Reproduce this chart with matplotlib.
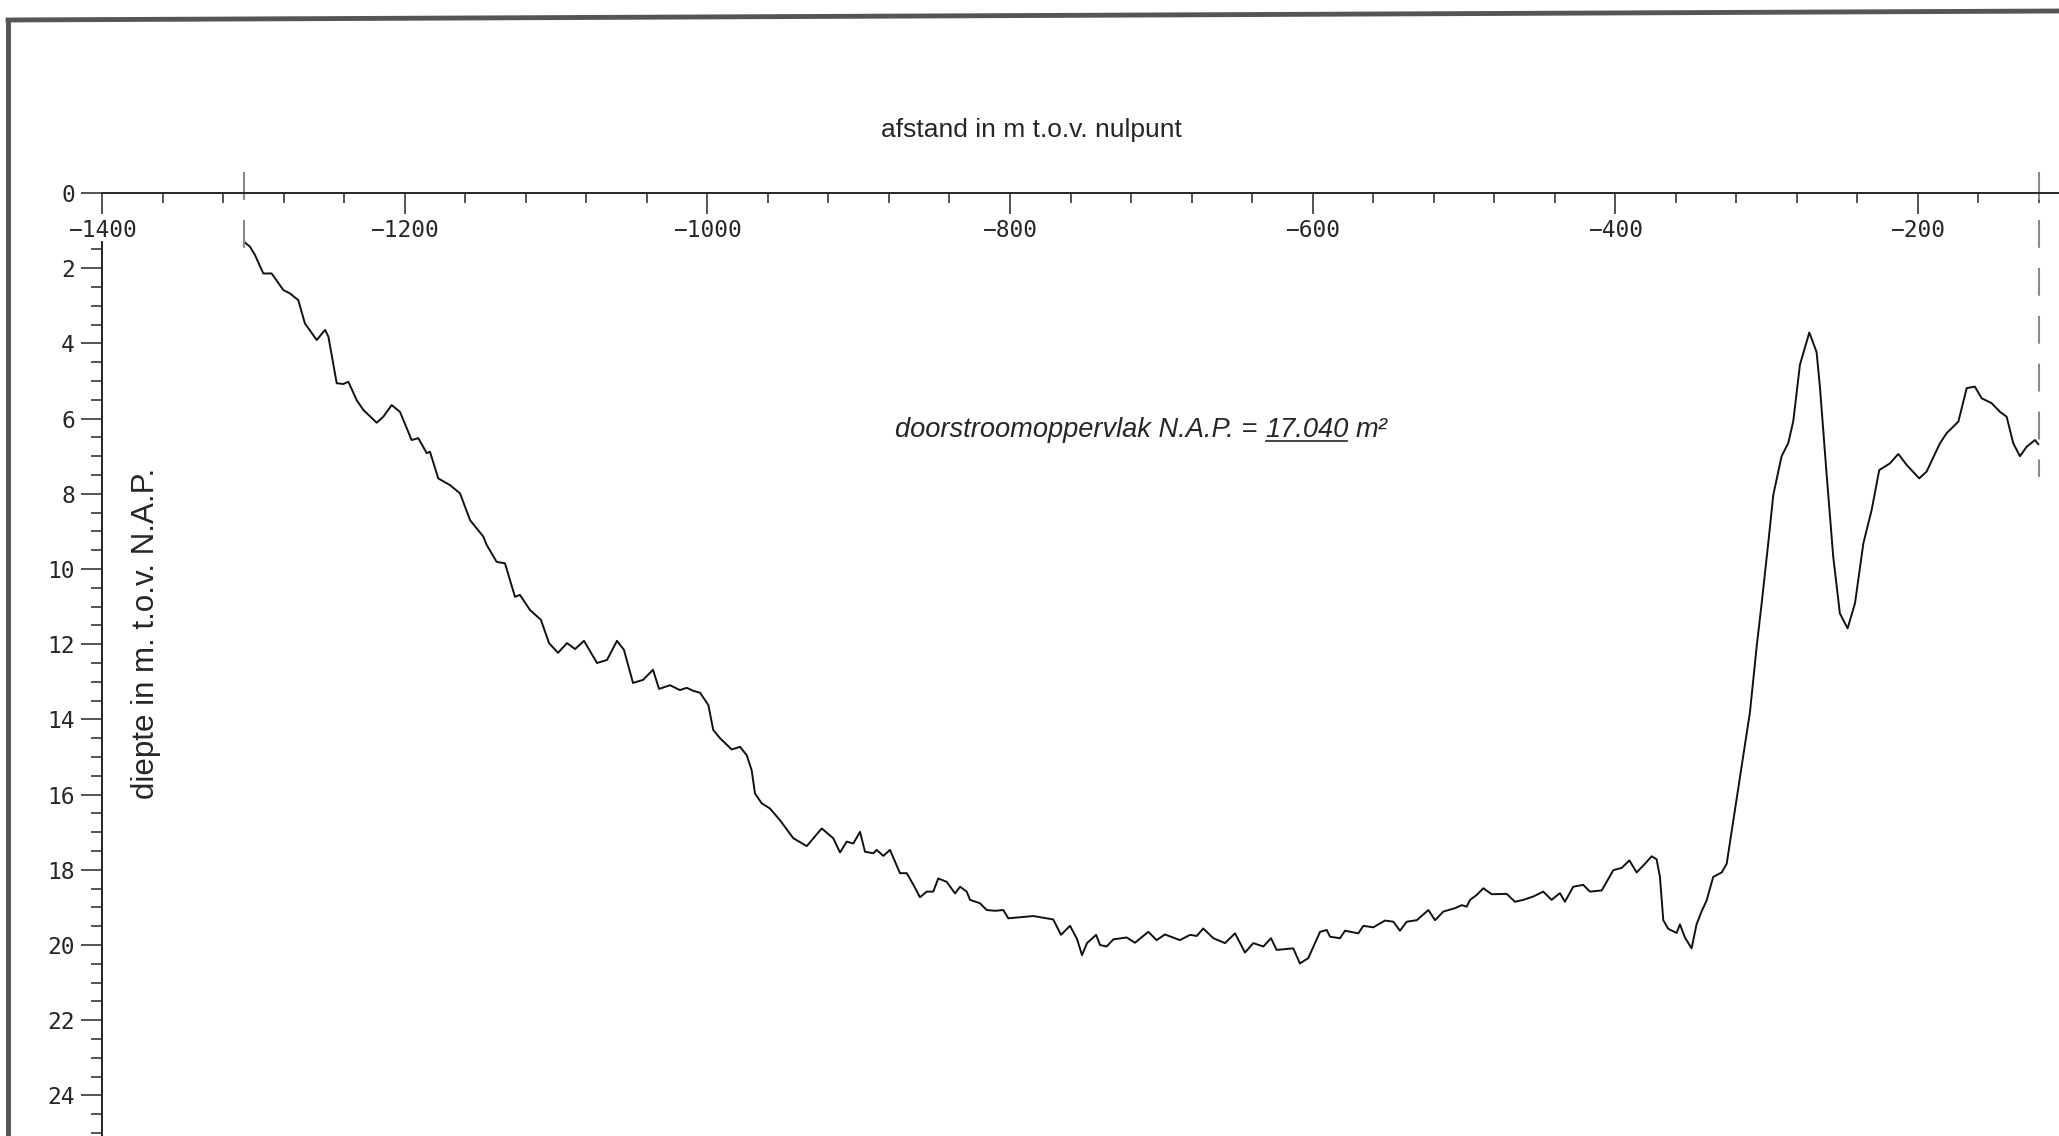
import matplotlib
matplotlib.use('Agg')
import matplotlib.pyplot as plt
from matplotlib.lines import Line2D
from matplotlib.ticker import MultipleLocator, FixedLocator

# dwarsprofiel: afstand (m t.o.v. nulpunt) en diepte (m t.o.v. N.A.P.)
afstand = [
    -1306.0, -1302.2, -1298.9, -1293.4, -1287.9, -1280.2, -1275.8, -1270.3, -1265.9, -1258.1,
    -1252.6, -1250.4, -1244.9, -1240.5, -1237.2, -1231.7, -1227.3, -1218.5, -1214.1, -1208.6,
    -1203.1, -1195.4, -1191.0, -1185.4, -1183.3, -1177.8, -1170.0, -1163.4, -1156.8, -1148.0,
    -1145.8, -1139.2, -1133.7, -1127.1, -1123.8, -1117.2, -1110.0, -1104.6, -1098.7, -1092.7,
    -1087.4, -1081.5, -1072.9, -1066.3, -1059.7, -1055.1, -1049.1, -1042.5, -1035.9, -1031.9,
    -1024.7, -1018.1, -1013.6, -1009.3, -1004.8, -999.3, -996.1, -991.6, -983.9, -978.4,
    -974.0, -970.7, -968.5, -964.1, -958.6, -952.0, -943.2, -934.3, -924.4, -916.8,
    -912.3, -907.9, -903.5, -899.1, -895.8, -890.3, -888.1, -883.7, -879.3, -872.7,
    -868.2, -863.8, -859.5, -855.0, -850.7, -847.4, -841.8, -836.3, -833.0, -828.6,
    -826.4, -819.8, -815.4, -809.9, -804.4, -801.1, -784.6, -771.4, -766.3, -760.3,
    -755.7, -752.4, -749.1, -743.1, -740.5, -736.1, -731.7, -722.9, -717.4, -708.6,
    -703.1, -697.6, -687.7, -681.0, -676.6, -672.3, -665.6, -657.9, -651.3, -644.7,
    -639.2, -632.6, -627.5, -623.8, -612.8, -608.4, -602.9, -595.1, -590.7, -588.5,
    -581.9, -578.6, -569.8, -566.5, -559.9, -552.2, -546.7, -542.3, -537.8, -531.2,
    -523.5, -519.1, -513.6, -505.9, -501.5, -498.2, -496.0, -491.6, -487.2, -481.7,
    -471.8, -466.3, -460.8, -454.2, -447.6, -442.1, -436.6, -433.3, -427.8, -421.2,
    -416.8, -409.0, -404.6, -401.3, -395.8, -390.7, -385.9, -380.4, -376.0, -372.7,
    -370.5, -368.3, -365.0, -359.5, -357.3, -354.0, -349.6, -346.3, -343.0, -339.7,
    -335.3, -329.7, -326.4, -322.0, -315.4, -311.0, -306.6, -303.3, -298.9, -295.6,
    -290.1, -285.7, -282.4, -278.0, -271.8, -267.0, -264.8, -260.4, -256.0, -251.6,
    -246.5, -241.6, -236.1, -230.6, -225.6, -218.5, -213.0, -207.5, -199.2, -194.3,
    -185.5, -181.1, -173.3, -167.8, -162.4, -157.9, -151.3, -145.8, -141.4, -137.0,
    -132.6, -128.2, -122.7, -120.5,
]
diepte = [
    1.30, 1.43, 1.65, 2.14, 2.14, 2.58, 2.67, 2.85, 3.47, 3.91,
    3.64, 3.82, 5.06, 5.08, 5.02, 5.51, 5.77, 6.11, 5.95, 5.64,
    5.82, 6.57, 6.52, 6.92, 6.88, 7.59, 7.77, 7.99, 8.70, 9.14,
    9.36, 9.81, 9.85, 10.74, 10.69, 11.09, 11.35, 11.97, 12.23, 11.97,
    12.13, 11.91, 12.50, 12.42, 11.91, 12.15, 13.03, 12.95, 12.68, 13.19,
    13.09, 13.22, 13.16, 13.24, 13.29, 13.62, 14.28, 14.50, 14.80, 14.73,
    14.95, 15.35, 15.97, 16.23, 16.37, 16.68, 17.16, 17.37, 16.90, 17.16,
    17.54, 17.25, 17.30, 16.99, 17.52, 17.56, 17.47, 17.63, 17.47, 18.09,
    18.09, 18.40, 18.73, 18.58, 18.58, 18.23, 18.32, 18.63, 18.45, 18.58,
    18.80, 18.89, 19.07, 19.09, 19.07, 19.29, 19.23, 19.32, 19.73, 19.49,
    19.84, 20.27, 19.95, 19.73, 20.00, 20.04, 19.85, 19.80, 19.94, 19.65,
    19.87, 19.72, 19.87, 19.73, 19.76, 19.56, 19.82, 19.95, 19.69, 20.20,
    19.95, 20.04, 19.82, 20.13, 20.09, 20.49, 20.35, 19.65, 19.60, 19.78,
    19.82, 19.62, 19.69, 19.49, 19.53, 19.35, 19.38, 19.62, 19.38, 19.34,
    19.07, 19.34, 19.11, 19.02, 18.94, 18.98, 18.80, 18.67, 18.49, 18.65,
    18.64, 18.85, 18.80, 18.71, 18.58, 18.80, 18.62, 18.85, 18.45, 18.40,
    18.58, 18.55, 18.24, 18.01, 17.95, 17.75, 18.07, 17.84, 17.64, 17.72,
    18.19, 19.34, 19.57, 19.68, 19.45, 19.80, 20.09, 19.45, 19.11, 18.82,
    18.19, 18.07, 17.84, 16.69, 14.95, 13.80, 12.07, 10.92, 9.30, 8.03,
    7.00, 6.65, 6.07, 4.57, 3.71, 4.23, 5.15, 7.46, 9.67, 11.18,
    11.58, 10.91, 9.32, 8.43, 7.37, 7.19, 6.94, 7.23, 7.59, 7.41,
    6.66, 6.39, 6.08, 5.19, 5.15, 5.46, 5.59, 5.82, 5.95, 6.66,
    7.00, 6.75, 6.57, 6.68,
]

# grenzen van het profiel (gestreepte lijnen)
grens_x = [-1306, -120]
grens_onder = [1.9, 7.55]
grens_boven = -0.55

x_major = list(range(-1400, -199, 200))
y_major = list(range(0, 25, 2))
oppervlak = '17.040'

fig = plt.figure(figsize=(20.59, 11.36), dpi=100, facecolor='white')
W, H = 2059, 1136
x_px0, px_per_m = 102, 1.5133
y_px0, px_per_d = 193, 37.6
x_max = -1400 + (W - x_px0) / px_per_m
y_max = (H - y_px0) / px_per_d
ax = fig.add_axes([x_px0 / W, 0, 1 - x_px0 / W, (H - y_px0) / H])
ax.set_xlim(-1400, x_max)
ax.set_ylim(y_max, 0)

ink = '#262626'
ax.plot(afstand, diepte, color='#111111', lw=1.4, solid_joinstyle='round')
for gx, go in zip(grens_x, grens_onder):
    ax.plot([gx, gx], [grens_boven, go], color='#8a8a8a', lw=1.5,
            linestyle=(0, (13.4, 9.6)), clip_on=False)

# assen
for s in ['right', 'bottom']:
    ax.spines[s].set_visible(False)
ax.spines['top'].set_linewidth(1.4)
ax.spines['top'].set_color(ink)
ax.spines['left'].set_linewidth(1.4)
ax.spines['left'].set_color(ink)
ax.spines['left'].set_bounds(1.3, y_max)

ax.xaxis.set_ticks_position('top')
ax.set_xticks(x_major)
ax.set_xticklabels([str(v).replace('-', '\u2212') for v in x_major])
ax.xaxis.set_minor_locator(MultipleLocator(40))
ax.tick_params(axis='x', which='major', direction='in', length=15, width=1.1,
               color=ink, pad=-35, labelsize=16.5, labelcolor=ink,
               labelfontfamily='DejaVu Sans Mono')
ax.tick_params(axis='x', which='minor', direction='in', length=7.5, width=1.1, color=ink)

ax.set_yticks(y_major)
ax.yaxis.set_minor_locator(FixedLocator([v / 2 for v in range(3, 51)]))
ax.tick_params(axis='y', which='major', direction='out', length=15, width=1.1,
               color=ink, pad=4.5, labelsize=16.5, labelcolor=ink,
               labelfontfamily='DejaVu Sans Mono')
ax.tick_params(axis='y', which='minor', direction='out', length=8, width=1.1, color=ink)

ax.xaxis.set_label_position('top')
ax.set_xlabel('afstand in m t.o.v. nulpunt', fontsize=19, family='Liberation Sans',
              color=ink, va='center')
ax.xaxis.set_label_coords((1031 - x_px0) / (W - x_px0), 1 + (y_px0 - 130) / (H - y_px0))
ax.set_ylabel('diepte in m. t.o.v. N.A.P.', fontsize=22.5, family='Liberation Sans',
              color=ink, va='center')
ax.yaxis.set_label_coords((146 - x_px0) / (W - x_px0), 1 - (633 - y_px0) / (H - y_px0))

# doorstroomoppervlak
tkw = dict(fontsize=19.6, style='italic', family='Liberation Sans', color=ink)
t1 = ax.text(-876, 6.3, 'doorstroomoppervlak N.A.P. =', va='center', ha='left', **tkw)
t2 = ax.annotate(oppervlak, xy=(1, 0), xycoords=t1, xytext=(5.5, 0),
                 textcoords='offset points', va='bottom', ha='left', **tkw)
t3 = ax.annotate('m\u00b2', xy=(1, 0), xycoords=t2, xytext=(5.5, 0),
                 textcoords='offset points', va='bottom', ha='left', **tkw)
fig.canvas.draw()
bb = t2.get_window_extent()
inv = fig.transFigure.inverted()
(u0, v0), (u1, _) = inv.transform([(bb.x0 + 1, bb.y0 + 2), (bb.x1 - 1, bb.y0 + 2)])
fig.add_artist(Line2D([u0, u1], [v0, v0], color=ink, lw=1.2))

# kader van de tekening
fig.add_artist(Line2D([8 / W, 8 / W], [0, 1 - 20 / H], color='#555555', lw=3.5))
fig.add_artist(Line2D([8 / W, 1], [1 - 20 / H, 1 - 11 / H], color='#555555', lw=3.5))

fig.savefig('out.png', dpi=100, facecolor='white')
